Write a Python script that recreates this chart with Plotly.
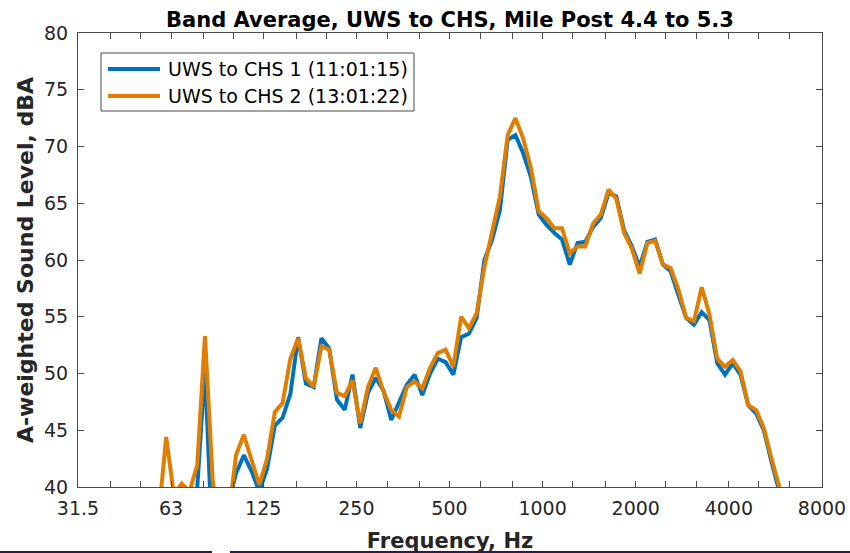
import plotly.graph_objects as go

# 1/12-octave band centre frequencies (Hz)
freq_hz = [
    57.31, 60.72, 64.33, 68.16, 72.21, 76.50, 81.05, 85.87, 90.98, 96.39,
    102.1, 108.2, 114.6, 121.4, 128.7, 136.3, 144.4, 153.0, 162.1, 171.8, 182.0, 192.8,
    204.3, 216.4, 229.3, 242.9, 257.3, 272.6, 288.9, 306.0, 324.2, 343.5, 363.9, 385.6,
    408.5, 432.8, 458.5, 485.8, 514.7, 545.3, 577.7, 612.1, 648.5, 687.0, 727.9, 771.1,
    817.0, 865.6, 917.1, 971.6, 1029.4, 1090.6, 1155.4, 1224.1, 1296.9, 1374.0, 1455.7, 1542.3,
    1634.0, 1731.2, 1834.1, 1943.1, 2058.7, 2181.1, 2310.8, 2448.2, 2593.8, 2748.0, 2911.4, 3084.6,
    3268.0, 3462.3, 3668.2, 3886.3, 4117.4, 4362.2, 4621.6, 4896.4, 5187.6, 5496.0, 5822.8, 6169.1,
]

# Band-averaged A-weighted levels (dBA), run 1
uws_chs_1 = [
    35.0, 37.5, 36.5, 38.0, 37.0, 39.9, 50.5, 34.0, 34.5, 38.5,
    41.2, 42.8, 41.4, 39.6, 41.6, 45.4, 46.1, 48.2, 53.2, 49.1, 48.8, 53.1,
    52.2, 47.7, 46.8, 49.9, 45.2, 48.3, 49.6, 48.5, 45.9, 47.5, 49.0, 49.9,
    48.1, 50.0, 51.3, 51.0, 49.9, 53.2, 53.5, 54.9, 60.0, 61.8, 64.4, 70.6,
    71.0, 69.4, 67.3, 64.0, 63.1, 62.4, 61.8, 59.6, 61.5, 61.6, 62.9, 63.7,
    65.9, 65.6, 62.6, 61.2, 59.4, 61.6, 61.8, 59.6, 59.0, 56.9, 54.9, 54.3,
    55.4, 54.7, 50.9, 49.9, 50.9, 49.9, 47.2, 46.5, 45.0, 42.2, 39.8, 37.0,
]

# Band-averaged A-weighted levels (dBA), run 2
uws_chs_2 = [
    37.2, 44.4, 39.3, 40.3, 39.6, 41.9, 53.3, 40.5, 36.0, 37.2,
    42.8, 44.6, 42.4, 40.2, 42.5, 46.6, 47.4, 51.3, 53.1, 49.6, 48.8, 52.4,
    52.1, 48.3, 48.0, 49.4, 45.6, 48.8, 50.5, 48.4, 46.8, 46.2, 48.8, 49.3,
    48.7, 50.5, 51.8, 52.1, 50.6, 55.0, 54.0, 55.3, 59.4, 62.4, 65.6, 71.0,
    72.5, 70.7, 68.1, 64.3, 63.7, 62.8, 62.8, 60.6, 61.2, 61.2, 63.2, 64.0,
    66.2, 65.4, 62.4, 61.0, 58.8, 61.5, 61.7, 59.6, 59.3, 57.4, 54.9, 54.6,
    57.6, 55.2, 51.3, 50.6, 51.2, 50.2, 47.2, 46.8, 45.2, 42.5, 40.2, 37.5,
]

series_names = ["UWS to CHS 1 (11:01:15)", "UWS to CHS 2 (13:01:22)"]
series_colors = ["#0072BD", "#DF7E00"]

# one-third-octave tick marks, labelled at each octave
x_tick_vals = [31.5, 40, 50, 63, 80, 100, 125, 160, 200, 250, 315, 400, 500,
               630, 800, 1000, 1250, 1600, 2000, 2500, 3150, 4000, 5000, 6300, 8000]
x_tick_text = ["31.5", "", "", "63", "", "", "125", "", "", "250", "", "", "500",
               "", "", "1000", "", "", "2000", "", "", "4000", "", "", "8000"]
y_tick_vals = [40, 45, 50, 55, 60, 65, 70, 75, 80]

FONT = "DejaVu Sans"
AXIS_COLOR = "#4a4a4a"
TEXT_COLOR = "#262626"

W, H = 850, 553
ML, MR, MT, MB = 78, 28, 33, 66
PW, PH = W - ML - MR, H - MT - MB


def px_to_paper(x, y):
    return (x - ML) / PW, (H - MB - y) / PH


fig = go.Figure()
for ys, name, color in zip([uws_chs_1, uws_chs_2], series_names, series_colors):
    fig.add_trace(go.Scatter(
        x=freq_hz, y=ys, mode="lines", name=name,
        line=dict(color=color, width=4),
        showlegend=False,
    ))

axis_common = dict(
    showline=True, linecolor=AXIS_COLOR, linewidth=1, mirror="ticks",
    ticks="inside", ticklen=6, tickcolor=AXIS_COLOR, tickwidth=1,
    showgrid=False, zeroline=False,
    tickfont=dict(family=FONT, size=19, color=TEXT_COLOR),
)

fig.update_xaxes(
    type="log",
    range=[1.4983106, 3.9030900],
    tickmode="array", tickvals=x_tick_vals, ticktext=x_tick_text,
    ticklabelstandoff=4,
    title=dict(text="Frequency, Hz", standoff=17,
               font=dict(family=FONT, size=21, color=TEXT_COLOR, weight="bold")),
    **axis_common,
)
fig.update_yaxes(
    range=[40, 80],
    tickmode="array", tickvals=y_tick_vals,
    ticklabelstandoff=5,
    title=dict(text="A-weighted Sound Level, dBA", standoff=4,
               font=dict(family=FONT, size=22, color=TEXT_COLOR, weight="bold")),
    **axis_common,
)

# legend box drawn in paper coordinates
lx0, ly0 = px_to_paper(101, 111)
lx1, ly1 = px_to_paper(414, 53)
shapes = [dict(type="rect", xref="paper", yref="paper", x0=lx0, y0=ly0, x1=lx1, y1=ly1,
               line=dict(color=AXIS_COLOR, width=1), fillcolor="white", layer="above")]
annotations = []
for row_y, name, color in zip([69, 96], series_names, series_colors):
    sx0, sy = px_to_paper(108, row_y)
    sx1, _ = px_to_paper(160, row_y)
    tx, _ = px_to_paper(166, row_y)
    shapes.append(dict(type="line", xref="paper", yref="paper", x0=sx0, x1=sx1, y0=sy, y1=sy,
                       line=dict(color=color, width=4), layer="above"))
    annotations.append(dict(xref="paper", yref="paper", x=tx, y=sy, text=name,
                            xanchor="left", yanchor="middle", showarrow=False,
                            font=dict(family=FONT, size=19, color="black")))

# dark rule along the bottom edge of the figure
bx0, by = px_to_paper(0, 552)
bx1, _ = px_to_paper(212, 552)
bx2, _ = px_to_paper(230, 552)
bx3, _ = px_to_paper(850, 552)
for a, b in [(bx0, bx1), (bx2, bx3)]:
    shapes.append(dict(type="line", xref="paper", yref="paper", x0=a, x1=b, y0=by, y1=by,
                       line=dict(color="#2a1c48", width=2), layer="above"))

fig.update_layout(
    width=W, height=H,
    margin=dict(l=ML, r=MR, t=MT, b=MB, autoexpand=False),
    paper_bgcolor="white", plot_bgcolor="white",
    title=dict(text="Band Average, UWS to CHS, Mile Post 4.4 to 5.3",
               x=(ML + PW / 2) / W, xanchor="center",
               y=1 - 20 / H, yanchor="middle", yref="container",
               font=dict(family=FONT, size=21, color="black", weight="bold")),
    shapes=shapes,
    annotations=annotations,
    showlegend=False,
)

fig.write_html("out.html")
